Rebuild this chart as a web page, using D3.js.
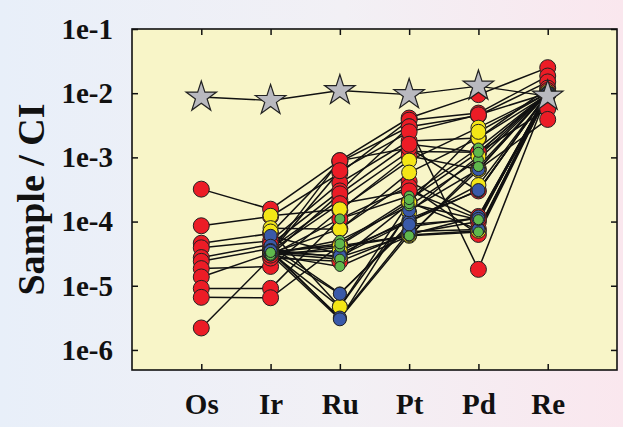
<!DOCTYPE html>
<html>
<head>
<meta charset="utf-8">
<script src="https://cdn.jsdelivr.net/npm/d3@7"></script>
<style>
  html, body { margin: 0; padding: 0; background: #fff; }
  svg { display: block; }
</style>
</head>
<body>
<svg id="chart" width="623" height="427"></svg>
<script>
// Elements along the x axis
const elements = ["Os", "Ir", "Ru", "Pt", "Pd", "Re"];

// Decade ticks on the log axis
const yTickValues = [1e-6, 1e-5, 1e-4, 1e-3, 1e-2, 1e-1];
const yTickLabels = ["1e-6", "1e-5", "1e-4", "1e-3", "1e-2", "1e-1"];

// Reference pattern (stars)
const referencePattern = [8.7e-3, 7.7e-3, 1.1e-2, 9.5e-3, 1.29e-2, 9.0e-3];

// Samples, values in element order Os, Ir, Ru, Pt, Pd, Re (null = not measured)
const redSamples = [
  [3.2e-4, 1.56e-4, 8.9e-4, 4.1e-3, 9.5e-3, 2.5e-2],
  [8.6e-5, 1.2e-4, 5.7e-4, 3.8e-3, 4.9e-3, 1.85e-2],
  [4.6e-5, 6.5e-5, 8.5e-4, 3.0e-3, 4.5e-3, 1.5e-2],
  [3.9e-5, 5.0e-5, 4.0e-4, 1.8e-3, 2.0e-3, 1.2e-2],
  [2.75e-5, 4.4e-5, 3.0e-4, 3.0e-3, 1.8e-5, 1.0e-2],
  [2.4e-5, 3.8e-5, 2.2e-4, 1.24e-3, 1.2e-3, 5.7e-3],
  [1.85e-5, 2.0e-5, 1.5e-4, 1.05e-3, 6.5e-4, 3.9e-3],
  [1.37e-5, 3.2e-5, 7.7e-5, 4.2e-4, 1.2e-4, 1.0e-2],
  [9.1e-6, 9.1e-6, 1.1e-4, 3.5e-4, 6.3e-5, 9.5e-3],
  [6.6e-6, 6.5e-6, 4.3e-5, 2.0e-4, 7.5e-5, 1.05e-2],
  [2.2e-6, 2.7e-5, 2.4e-5, 6.5e-5, 1.0e-4, 1.1e-2],
  [null, 3.4e-5, 8.9e-4, 1.4e-3, 3.0e-4, 1.0e-2],
  [null, 3.3e-5, 6.2e-4, 2.5e-3, 4.6e-3, 1.0e-2],
  [null, 3.0e-5, 2.7e-4, 1.6e-3, 1.2e-3, 1.0e-2],
  [null, 3.5e-5, 1.9e-4, 3.0e-4, 1.1e-4, 9.5e-3]
];

const yellowSamples = [
  [null, 1.23e-4, 1.55e-4, 8.9e-4, 2.9e-3, 1.0e-2],
  [null, 7.9e-5, 7.6e-5, 5.8e-4, 2.0e-3, 9.5e-3],
  [null, 7.0e-5, 4.7e-6, 1.4e-4, 1.04e-3, 1.0e-2],
  [null, 3.4e-5, 4.2e-5, 6.0e-5, 6.4e-4, 1.05e-2],
  [null, 3.2e-5, 3.5e-5, 1.0e-4, 3.7e-4, 9.8e-3],
  [null, 3.6e-5, 2.8e-5, 6.2e-5, 7.2e-5, 9.5e-3],
  [null, 3.3e-5, 4.7e-6, 2.0e-4, 2.5e-3, 1.0e-2]
];

const blueSamples = [
  [null, 6.0e-5, 3.1e-5, 1.1e-4, 3.0e-4, 1.0e-2],
  [null, 4.2e-5, 7.6e-6, 8.3e-5, 1.15e-4, 9.8e-3],
  [null, 3.6e-5, 3.1e-6, 6.3e-5, 1.2e-4, 1.02e-2],
  [null, 3.3e-5, 2.9e-5, 1.0e-4, 3.1e-4, 9.6e-3],
  [null, 3.4e-5, 3.2e-6, 7.0e-5, 7.5e-5, 1.0e-2],
  [null, 3.1e-5, 3.0e-6, 1.5e-4, 6.5e-4, 1.0e-2],
  [null, 3.5e-5, 7.5e-6, 9.0e-5, 1.1e-4, 1.0e-2]
];

const greenSamples = [
  [null, 3.0e-5, 1.1e-4, 2.5e-4, 1.4e-3, 1.0e-2],
  [null, 3.1e-5, 5.1e-5, 1.76e-4, 9.2e-4, 9.8e-3],
  [null, 2.9e-5, 4.0e-5, 5.9e-5, 7.2e-4, 1.0e-2],
  [null, 3.2e-5, 2.6e-5, 1.9e-4, 1.07e-4, 9.9e-3],
  [null, 3.0e-5, 2.0e-5, 6.0e-5, 6.9e-5, 1.01e-2],
  [null, 3.3e-5, 4.5e-5, 2.2e-4, 1.2e-3, 1.0e-2]
];

const groups = [
  { samples: redSamples,    fill: "#ec1c26", r: 8 },
  { samples: yellowSamples, fill: "#f4e616", r: 7.5 },
  { samples: blueSamples,   fill: "#3a5aa9", r: 6.5 },
  { samples: greenSamples,  fill: "#5fb84c", r: 5 }
];

const W = 623, H = 427;
const plot = { left: 132, right: 617, top: 29, bottom: 370 };

const svg = d3.select("#chart");

// Page background: soft blue-to-pink wash
const defs = svg.append("defs");
const grad = defs.append("linearGradient").attr("id", "bg").attr("x1", 0).attr("x2", 1).attr("y1", 0).attr("y2", 0);
grad.append("stop").attr("offset", "0%").attr("stop-color", "#e8eff9");
grad.append("stop").attr("offset", "55%").attr("stop-color", "#f2f0f5");
grad.append("stop").attr("offset", "100%").attr("stop-color", "#fae7ee");
svg.append("rect").attr("width", W).attr("height", H).attr("fill", "url(#bg)");

const x = d3.scalePoint().domain(elements).range([plot.left, plot.right]).padding(1);
const y = d3.scaleLog().domain([Math.pow(10, -6.3125), 1e-1]).range([plot.bottom, plot.top]);

// Plot area
svg.append("rect")
  .attr("x", plot.left).attr("y", plot.top)
  .attr("width", plot.right - plot.left).attr("height", plot.bottom - plot.top)
  .attr("fill", "#f8f5c8");

const font = "'Liberation Serif', 'Times New Roman', serif";

// Axes with inward ticks on all four sides
const axisL = svg.append("g").attr("transform", `translate(${plot.left},0)`)
  .call(d3.axisLeft(y).tickValues(yTickValues).tickSize(-6).tickPadding(19)
    .tickFormat((d, i) => yTickLabels[i]));
const axisR = svg.append("g").attr("transform", `translate(${plot.right},0)`)
  .call(d3.axisRight(y).tickValues(yTickValues).tickSize(-6).tickFormat(""));
const axisT = svg.append("g").attr("transform", `translate(0,${plot.top})`)
  .call(d3.axisTop(x).tickSize(-6).tickFormat(""));
const axisB = svg.append("g").attr("transform", `translate(0,${plot.bottom})`)
  .call(d3.axisBottom(x).tickSize(-6).tickPadding(23));

[axisL, axisR, axisT, axisB].forEach(g => {
  g.select(".domain").remove();
  g.selectAll(".tick line").attr("stroke", "#111").attr("stroke-width", 1.5);
  g.selectAll(".tick text")
    .attr("font-family", font).attr("font-weight", "bold")
    .attr("font-size", 29).attr("fill", "#111");
});

// Axis title
svg.append("text")
  .attr("transform", `translate(44,${(plot.top + plot.bottom) / 2}) rotate(-90)`)
  .attr("text-anchor", "middle")
  .attr("font-family", font).attr("font-weight", "bold")
  .attr("font-size", 38).attr("fill", "#111")
  .text("Sample / CI");

const line = d3.line()
  .defined(d => d.v != null)
  .x(d => x(d.el))
  .y(d => y(d.v));

const asPoints = row => row.map((v, i) => ({ el: elements[i], v }));

// Sample profiles
const linesG = svg.append("g");
groups.forEach(g => {
  g.samples.forEach(row => {
    linesG.append("path")
      .attr("d", line(asPoints(row)))
      .attr("fill", "none")
      .attr("stroke", "#111")
      .attr("stroke-width", 1.5);
  });
});

// Sample markers
groups.forEach(g => {
  const pts = g.samples.flatMap(row => asPoints(row).filter(d => d.v != null));
  svg.append("g").selectAll("circle").data(pts).join("circle")
    .attr("cx", d => x(d.el))
    .attr("cy", d => y(d.v))
    .attr("r", g.r)
    .attr("fill", g.fill)
    .attr("stroke", "#222")
    .attr("stroke-width", 1);
});

// Reference pattern
const refPts = asPoints(referencePattern);
svg.append("path")
  .attr("d", line(refPts))
  .attr("fill", "none").attr("stroke", "#111").attr("stroke-width", 1.4);
svg.append("g").selectAll("path").data(refPts).join("path")
  .attr("transform", d => `translate(${x(d.el)},${y(d.v)})`)
  .attr("d", d3.symbol(d3.symbolStar, 290))
  .attr("fill", "#b9b9bf")
  .attr("stroke", "#222")
  .attr("stroke-width", 1.2);

// Frame
svg.append("rect")
  .attr("x", plot.left).attr("y", plot.top)
  .attr("width", plot.right - plot.left).attr("height", plot.bottom - plot.top)
  .attr("fill", "none").attr("stroke", "#111").attr("stroke-width", 1.6);
</script>
</body>
</html>
